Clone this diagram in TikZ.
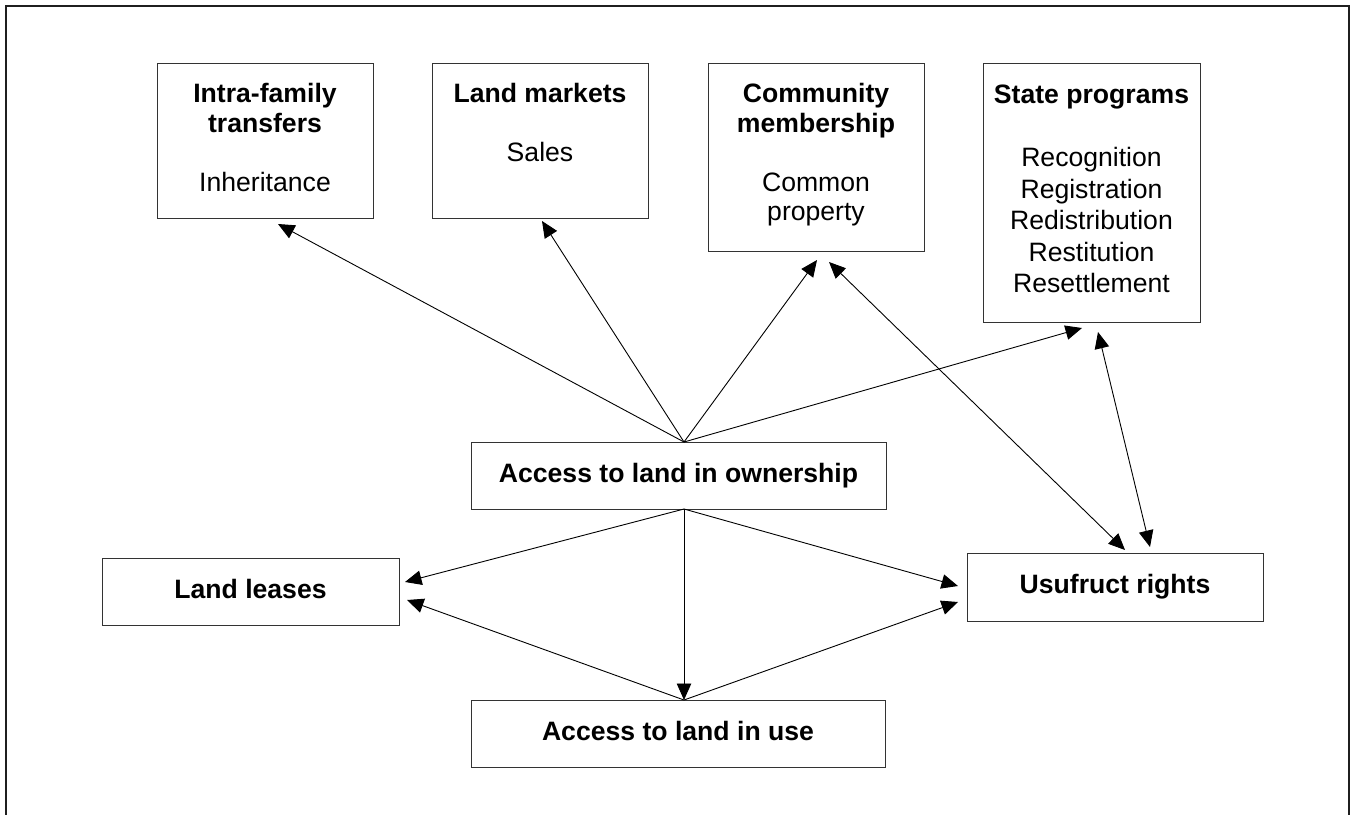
\documentclass[tikz,border=0pt]{standalone}
\usepackage{fontspec}
\setmainfont{Liberation Sans}
\usetikzlibrary{arrows.meta}
\begin{document}
\begin{tikzpicture}[x=1bp,y=-1bp,
  frame/.style={draw=black!88, line width=2.4bp},
  box/.style={draw=black!80, line width=0.9bp, inner sep=0, fill=white},
  boldbox/.style={box, font=\fontsize{26.6bp}{29.5bp}\selectfont\bfseries, text height=19bp, text depth=5.5bp, minimum height=67bp},
  lbl/.style={inner sep=0, align=center, anchor=north, font=\fontsize{26.6bp}{29.5bp}\selectfont},
  lblwide/.style={lbl, font=\fontsize{26.6bp}{31.5bp}\selectfont},
  arr/.style={draw=black, line width=0.9bp, -{Triangle[length=16.5bp,width=14.5bp]}},
  darr/.style={draw=black, line width=0.9bp, {Triangle[length=16.5bp,width=14.5bp]}-{Triangle[length=16.5bp,width=14.5bp]}},
]
\useasboundingbox (0,0) rectangle (1351,814);
\fill[white] (0,0) rectangle (1351,814);
% outer frame (bottom edge outside the picture)
\draw[frame] (6,820) -- (6,6) -- (1349,6) -- (1349,820);

% top boxes
\node[box, minimum width=216bp, minimum height=155bp] (intra) at (265,140.5) {};
\node[box, minimum width=216bp, minimum height=155bp] (markets) at (540,140.5) {};
\node[box, minimum width=216bp, minimum height=188bp] (comm) at (816,157) {};
\node[box, minimum width=217bp, minimum height=259bp] (state) at (1091.5,192.5) {};

\node[lbl] (intraT) at (265,82.7) {\rule{0pt}{20bp}\textbf{Intra-family}\\\textbf{transfers}\\[29.5bp]Inheritance};
\node[lbl] (marketsT) at (540,82.7) {\rule{0pt}{20bp}\textbf{Land markets}\\[29.5bp]Sales};
\node[lbl] (commT) at (816,82.7) {\rule{0pt}{20bp}\textbf{Community}\\\textbf{membership}\\[29.5bp]Common\\property};
\node[lblwide] (stateT) at (1091.5,83.3) {\rule{0pt}{20bp}\textbf{State programs}\\[31.5bp]Recognition\\Registration\\Redistribution\\Restitution\\Resettlement};

% middle and bottom boxes
\node[boldbox, minimum width=415bp] (own) at (678.5,475.5) {Access to land in ownership};
\node[boldbox, minimum width=297bp] (leases) at (250.5,591.5) {Land leases};
\node[boldbox, minimum width=296bp, minimum height=68bp] (usu) at (1115,587) {Usufruct rights};
\node[boldbox, minimum width=414bp] (use) at (678,733.5) {Access to land in use};

% connector end points
\coordinate (ownT) at (684,442);
\coordinate (ownB) at (684,509);
\coordinate (useT) at (684,700);
\coordinate (tIntra) at (278,224);
\coordinate (tMarkets) at (542,221);
\coordinate (tComm) at (817,260);
\coordinate (tState) at (1082,328);
\coordinate (cCommU) at (829,262);
\coordinate (cUsuC) at (1125,550);
\coordinate (cStateU) at (1098,332);
\coordinate (cUsuS) at (1150,547);
\coordinate (tLeasesO) at (405,582);
\coordinate (tUsuO) at (958,586);
\coordinate (tLeasesU) at (407,600);
\coordinate (tUsuU) at (958,602);

% connectors
\draw[arr] (ownT) -- (tIntra);
\draw[arr] (ownT) -- (tMarkets);
\draw[arr] (ownT) -- (tComm);
\draw[arr] (ownT) -- (tState);
\draw[darr] (cCommU) -- (cUsuC);
\draw[darr] (cStateU) -- (cUsuS);
\draw[arr] (ownB) -- (tLeasesO);
\draw[arr] (ownB) -- (useT);
\draw[arr] (ownB) -- (tUsuO);
\draw[arr] (useT) -- (tLeasesU);
\draw[arr] (useT) -- (tUsuU);
\end{tikzpicture}
\end{document}
